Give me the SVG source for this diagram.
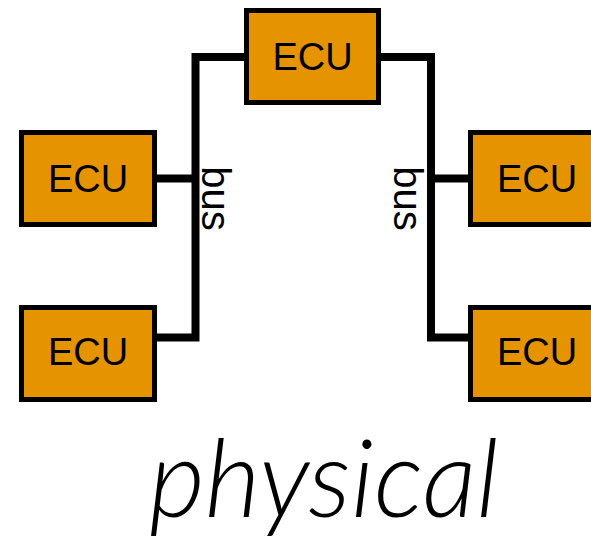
<svg xmlns="http://www.w3.org/2000/svg" width="591" height="542" viewBox="0 0 591 542">
<style>
.ecu rect{fill:#e59400;stroke:#000;stroke-width:5}
.ecu text{font-family:"Liberation Sans",Arial,sans-serif;font-size:38px;fill:#000;text-anchor:middle}
.bus{fill:none;stroke:#000;stroke-width:8;stroke-linejoin:miter;stroke-linecap:butt}
.lbl{font-family:"Liberation Sans",Arial,sans-serif;font-size:40px;fill:#000;text-anchor:middle}
.title{font-family:Lato,"Open Sans",sans-serif;font-weight:300;font-style:italic;font-size:108px;fill:#000}
</style>
<rect width="591" height="542" fill="#fff"/>
<g id="connectors">
<path class="bus" d="M157 337.5 H195.5 V57 H244"/>
<path class="bus" d="M157 178.5 H195.5"/>
<path class="bus" d="M381 57 H431 V337.5 H468"/>
<path class="bus" d="M431 178.5 H468"/>
<text class="lbl" transform="translate(201.5,198.5) rotate(90)">bus</text>
<text class="lbl" transform="translate(393.5,198.5) rotate(90)">bus</text>
</g>
<g id="ecu-top" class="ecu"><rect x="246.5" y="10.5" width="132" height="92"/><text x="312.5" y="70">ECU</text></g>
<g id="ecu-left1" class="ecu"><rect x="21.5" y="132.5" width="133" height="92"/><text x="88" y="192">ECU</text></g>
<g id="ecu-left2" class="ecu"><rect x="21.5" y="307.5" width="133" height="92"/><text x="88" y="365">ECU</text></g>
<g id="ecu-right1" class="ecu"><rect x="470.5" y="132.5" width="133" height="92"/><text x="537" y="192">ECU</text></g>
<g id="ecu-right2" class="ecu"><rect x="470.5" y="307.5" width="133" height="92"/><text x="537" y="365">ECU</text></g>
<text class="title" x="149" y="517">physical</text>
</svg>
